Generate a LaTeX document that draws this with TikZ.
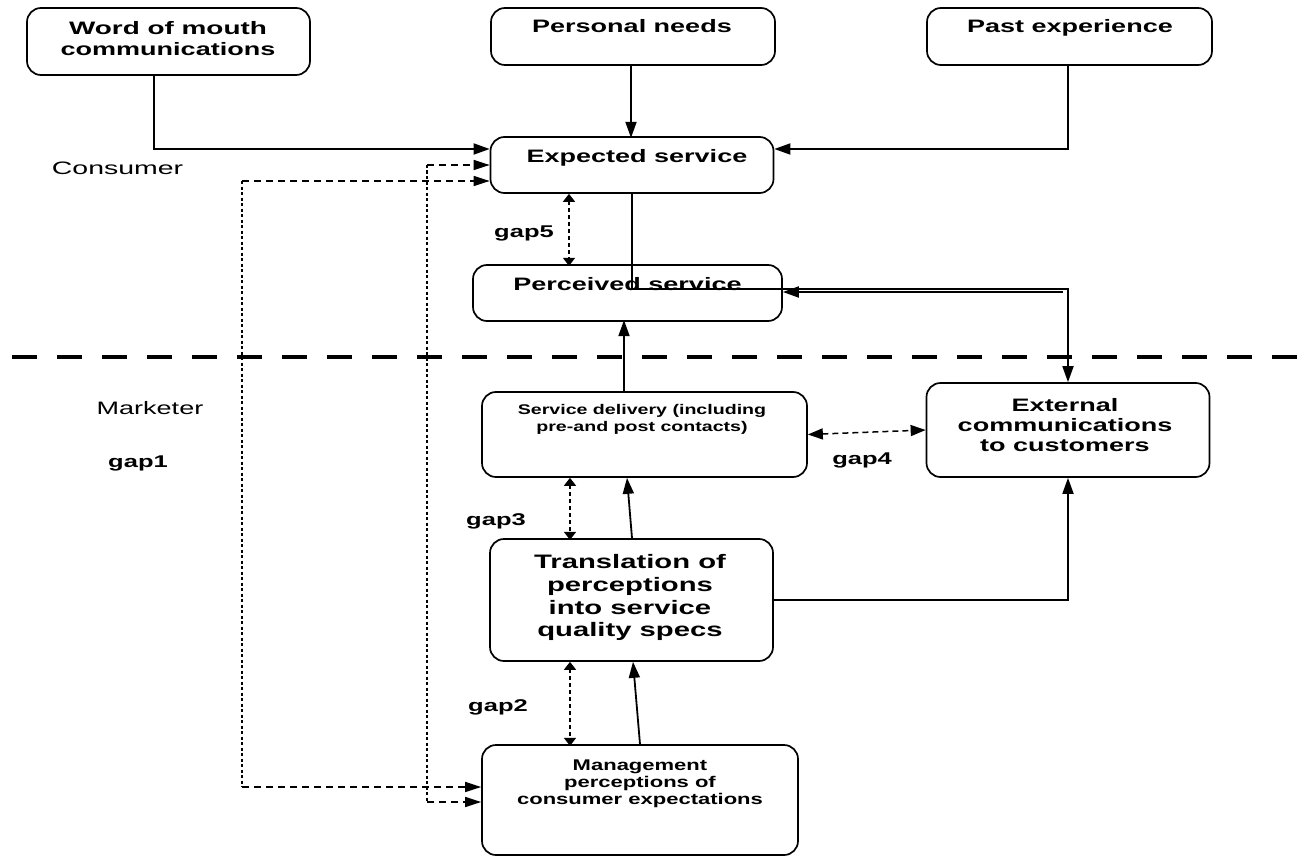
\documentclass[tikz,border=0pt]{standalone}
\usepackage{fontspec}
\setmainfont{Liberation Sans}
\usetikzlibrary{arrows.meta}
\newcommand{\sx}[2][1.5]{\scalebox{#1}[1]{#2}}
\begin{document}
\begin{tikzpicture}[x=1pt,y=-1pt,
  box/.style={draw, line width=1.7pt, rounded corners=14pt, inner sep=0pt},
  tb/.style={inner sep=0pt, align=center},
  ln/.style={line width=1.8pt},
  arr/.style={ln, -{Triangle[length=16pt,width=11pt]}},
  hdash/.style={line width=1.5pt, dash pattern=on 7pt off 5pt, -{Triangle[length=16pt,width=10pt]}},
  vdot/.style={line width=1.6pt, dash pattern=on 3pt off 2.5pt},
  gaparr/.style={line width=1.6pt, dash pattern=on 4pt off 3pt, {Triangle[length=8pt,width=12pt]}-{Triangle[length=8pt,width=12pt]}},
  gapfour/.style={line width=1.5pt, dash pattern=on 6pt off 4pt, {Triangle[length=15pt,width=11pt]}-{Triangle[length=15pt,width=11pt]}},
  big/.style={font=\fontsize{18}{21}\selectfont\bfseries},
  gapl/.style={anchor=base, inner sep=0pt, font=\fontsize{17}{20}\selectfont\bfseries}
]
\useasboundingbox (0,0) rectangle (1312,856);

% boxes
\node[box, minimum width=283pt, minimum height=67pt] (wom) at (168.5,41.5) {};
\node[box, minimum width=284pt, minimum height=57pt] (pn) at (633,36.5) {};
\node[box, minimum width=285pt, minimum height=57pt] (pe) at (1069.5,36.5) {};
\node[box, minimum width=283pt, minimum height=56pt] (es) at (632,165) {};
\node[box, minimum width=309pt, minimum height=56pt] (ps) at (627.5,293) {};
\node[box, minimum width=325pt, minimum height=85pt] (sd) at (644.5,434.5) {};
\node[box, minimum width=283pt, minimum height=94pt] (ec) at (1068,430) {};
\node[box, minimum width=283pt, minimum height=122pt] (tr) at (631.5,600) {};
\node[box, minimum width=316pt, minimum height=110pt] (mg) at (640,800) {};

% texts
\node[tb, big] (womt) at (168,39) {\sx[1.55]{Word of mouth}\\\sx{communications}};
\node[tb, big, anchor=base] (pnt) at (632,33) {\sx{Personal needs}};
\node[tb, big, anchor=base] (pet) at (1070,33) {\sx{Past experience}};
\node[tb, big, anchor=base] (est) at (637,162) {\sx{Expected service}};
\node[tb, big, anchor=base] (pst) at (627.5,290.7) {\sx{Perceived service}};
\node[tb, font=\fontsize{14}{17}\selectfont\bfseries] (sdt) at (642,418.9) {\sx[1.4]{Service delivery (including}\\\sx[1.4]{pre-and post contacts)}};
\node[tb, font=\fontsize{18}{20}\selectfont\bfseries] (ect) at (1065,425.5) {\sx{External}\\\sx{communications}\\\sx{to customers}};
\node[tb, font=\fontsize{19.5}{22.6}\selectfont\bfseries] (trt) at (630,597.8) {\sx{Translation of}\\\sx{perceptions}\\\sx{into service}\\\sx{quality specs}};
\node[tb, font=\fontsize{15.5}{17.2}\selectfont\bfseries] (mgt) at (640,784) {\sx[1.42]{Management}\\\sx[1.42]{perceptions of}\\\sx[1.42]{consumer expectations}};

\node[anchor=base, inner sep=0pt, font=\fontsize{18}{21}\selectfont] (cons) at (117.5,175) {\sx[1.58]{Consumer}};
\node[anchor=base, inner sep=0pt, font=\fontsize{18}{21}\selectfont] (mark) at (150,414) {\sx{Marketer}};
\node[gapl] (g1) at (138,467) {\sx{gap1}};
\node[gapl] (g5) at (524,237) {\sx{gap5}};
\node[gapl] (g3) at (496,525) {\sx{gap3}};
\node[gapl] (g2) at (498,711.7) {\sx{gap2}};
\node[gapl] (g4) at (862,464) {\sx{gap4}};

% divider
\draw[line width=4pt, dash pattern=on 25pt off 20pt] (12,357) -- (1312,357);

% solid connectors
\draw[arr] ([xshift=-14.5pt]wom.south) |- ([yshift=16pt]es.west);
\draw[arr] ([xshift=-2pt]pn.south) -- ++(0,72);
\draw[arr] ([xshift=-1.5pt]pe.south) |- ([yshift=16pt]es.east);
\draw[arr] (es.south) -- ++(0,95) -| (ec.north);
\coordinate (k2) at (1063,292);
\draw[arr] (k2) -- (k2 -| ps.east);
\draw[arr] ([xshift=-20.5pt]sd.north) -- ++(0,-71);
\draw[arr] ([xshift=0.5pt]tr.north) -- ([xshift=-17.5pt]sd.south);
\draw[arr] (mg.north) -- ([xshift=1.5pt]tr.south);
\draw[arr] (tr.east) -| (ec.south);

% gaps
\draw[gaparr] ([xshift=-63pt]es.south) -- ++(0,72);
\draw[gaparr] ([xshift=-74.5pt]sd.south) -- ++(0,62);
\draw[gaparr] ([xshift=-61.5pt]tr.south) -- ++(0,84);
\draw[gapfour] (sd.east) -- (ec.west);

% gap1 dashed feedback lines
\coordinate (d1) at (427,165);
\coordinate (d2) at (427,802);
\coordinate (d3) at (242,181);
\coordinate (d4) at (242,787);
\draw[hdash] (d1) -- (d1 -| es.west);
\draw[vdot] (d1) -- (d2);
\draw[hdash] (d2) -- (d2 -| mg.west);
\draw[hdash] (d3) -- (d3 -| es.west);
\draw[vdot] (d3) -- (d4);
\draw[hdash] (d4) -- (d4 -| mg.west);
\end{tikzpicture}
\end{document}
